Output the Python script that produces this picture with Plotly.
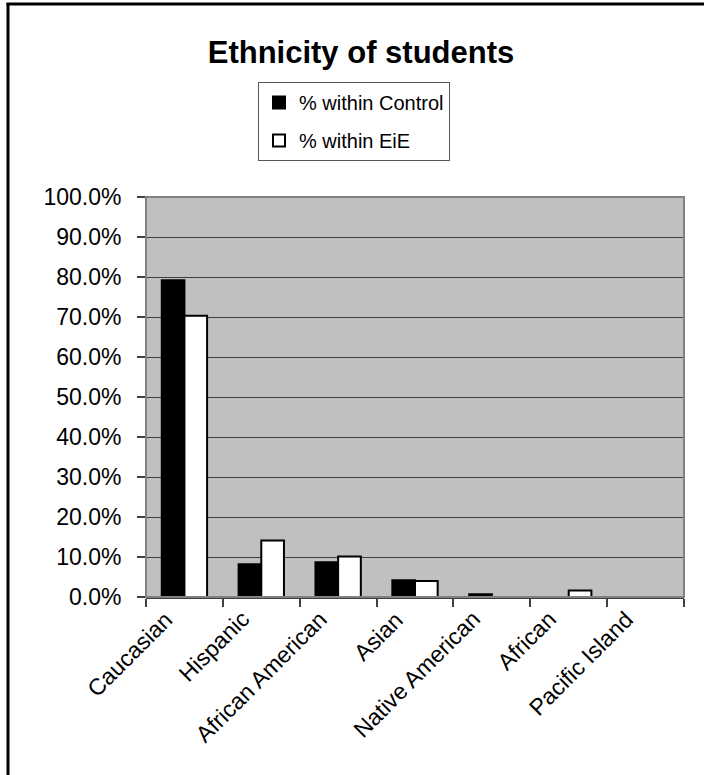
import plotly.graph_objects as go

# Share of students by ethnicity in each group
categories = ["Caucasian", "Hispanic", "African American", "Asian",
              "Native American", "African", "Pacific Island"]
control_pct = [0.792, 0.082, 0.087, 0.042, 0.007, 0.0, 0.0]
eie_pct = [0.703, 0.141, 0.101, 0.040, 0.0, 0.016, 0.0]
series_names = ["% within Control", "% within EiE"]
y_ticks = [i / 10 for i in range(11)]

FONT = "Arial, Liberation Sans, sans-serif"

fig = go.Figure()
fig.add_trace(go.Bar(
    x=categories, y=control_pct, name=series_names[0], legendgroup="a",
    marker=dict(color="black", line=dict(color="black", width=2)),
))
fig.add_trace(go.Bar(
    x=categories, y=eie_pct, name=series_names[1], legendgroup="b",
    marker=dict(color="white", line=dict(color="black", width=2)),
))

W, H = 704, 775
L, R, T, B = 146, 20, 197, 178
pw, ph = W - L - R, H - T - B


def px_x(v):
    return (v - L) / pw


def px_y(v):
    return (H - B - v) / ph


fig.update_layout(
    width=W, height=H,
    margin=dict(l=L, r=R, t=T, b=B),
    paper_bgcolor="white",
    plot_bgcolor="#C0C0C0",
    barmode="group",
    bargap=0.41,
    bargroupgap=0,
    font=dict(family=FONT, color="black"),
    title=dict(text="<b>Ethnicity of students</b>", x=361 / W, xanchor="center",
               xref="container", y=1 - 52 / H, yanchor="middle",
               font=dict(family=FONT, size=31, color="black")),
    legend=dict(
        x=px_x(258), y=px_y(82), xanchor="left", yanchor="top",
        bgcolor="white", bordercolor="#555555", borderwidth=1,
        font=dict(family=FONT, size=20, color="black"),
        traceorder="grouped", tracegroupgap=9, itemwidth=30,
    ),
    showlegend=True,
)

fig.update_xaxes(
    type="category",
    categoryorder="array", categoryarray=categories,
    range=[-0.5, len(categories) - 0.5],
    tickson="boundaries",
    ticks="outside", ticklen=8, tickcolor="#404040", tickwidth=2,
    showticklabels=False,
    showline=True, linecolor="#404040", linewidth=2,
    showgrid=False,
)
fig.update_yaxes(
    range=[0, 1],
    tickvals=y_ticks,
    tickformat=".1%",
    ticks="outside", ticklen=8, tickcolor="#404040", tickwidth=2,
    showline=False,
    showgrid=True, gridcolor="#404040", gridwidth=1.2,
    zeroline=False,
    ticklabelstandoff=11,
    tickfont=dict(family=FONT, size=23, color="black"),
)

# rotated category labels, their upper ends just left of each category centre
for i, cat in enumerate(categories):
    fig.add_annotation(
        x=(i + 0.5) / len(categories), xref="x domain",
        y=px_y(603), yref="paper",
        text=cat, textangle=-45, showarrow=False,
        xanchor="right", yanchor="top", xshift=-4,
        font=dict(family=FONT, size=23, color="black"),
    )

# plot-area border and outer chart frame
fig.add_shape(type="rect", xref="paper", yref="paper", x0=0, y0=0, x1=1, y1=1,
              line=dict(color="#808080", width=2), layer="above")
fig.add_shape(type="line", xref="paper", yref="paper",
              x0=px_x(8), x1=px_x(8), y0=px_y(3), y1=px_y(790),
              line=dict(color="black", width=3))
fig.add_shape(type="line", xref="paper", yref="paper",
              x0=px_x(6.5), x1=px_x(720), y0=px_y(4), y1=px_y(4),
              line=dict(color="black", width=3))

fig.write_html("out.html")
